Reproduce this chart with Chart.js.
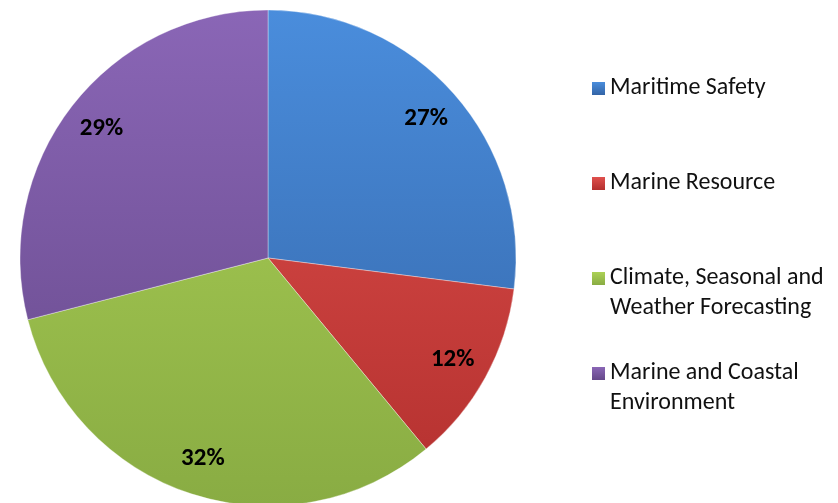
<!DOCTYPE html>
<html>
<head>
<meta charset="utf-8">
<script src="https://cdn.jsdelivr.net/npm/chart.js@4/dist/chart.umd.min.js"></script>
<style>
    html, body { margin: 0; padding: 0; background: #fff; overflow: hidden; }
    #wrap { position: relative; width: 838px; height: 503px; }
    #chart { position: absolute; left: 0; top: 0; }
    #legend { position: absolute; left: 0; top: 0; font-family: Carlito, Lato, "Open Sans", sans-serif; font-size: 24px; color: #111; }
    .item { position: absolute; left: 592px; line-height: 30px; }
    .box { position: absolute; left: 0; top: 11px; width: 13px; height: 13px; }
    .txt { position: absolute; left: 18px; top: 0; white-space: nowrap; }
</style>
</head>
<body>
<div id="wrap">
    <canvas id="chart" width="838" height="503"></canvas>
    <div id="legend"></div>
</div>
<script>
const categories = [
    "Maritime Safety",
    "Marine Resource",
    ["Climate, Seasonal and", "Weather Forecasting"],
    ["Marine and Coastal", "Environment"]
];
const shares = [27, 12, 32, 29];
const valueLabels = ["27%", "12%", "32%", "29%"];

// top / bottom shade of each slice
const topColors = ["#4a8ddc", "#e0504d", "#acd156", "#8a66b6"];
const bottomColors = ["#3364a6", "#b3302e", "#89ac43", "#654889"];

function sliceFill(context) {
    const i = context.dataIndex;
    const chart = context.chart;
    const area = chart.chartArea;
    if (!area) return topColors[i];
    const g = chart.ctx.createLinearGradient(0, 10, 0, 506);
    g.addColorStop(0, topColors[i]);
    g.addColorStop(1, bottomColors[i]);
    return g;
}

const pctLabels = {
    id: "pctLabels",
    afterDatasetsDraw(chart) {
        const ctx = chart.ctx;
        const meta = chart.getDatasetMeta(0);
        ctx.save();
        ctx.font = "bold 25px Carlito, Lato, 'Open Sans', sans-serif";
        ctx.fillStyle = "#000";
        ctx.textAlign = "center";
        ctx.textBaseline = "middle";
        meta.data.forEach((arc, i) => {
            const p = arc.getProps(["x", "y", "startAngle", "endAngle", "outerRadius"], true);
            const mid = (p.startAngle + p.endAngle) / 2;
            const r = p.outerRadius * 0.85;
            ctx.fillText(valueLabels[i], p.x + Math.cos(mid) * r, p.y + Math.sin(mid) * r);
        });
        ctx.restore();
    }
};

const ctx = document.getElementById("chart").getContext("2d");

const chart = new Chart(ctx, {
    type: "pie",
    data: {
        labels: categories,
        datasets: [{
            data: shares,
            backgroundColor: sliceFill,
            borderColor: "rgba(255,255,255,0.35)",
            borderWidth: 1,
            radius: 248
        }]
    },
    options: {
        responsive: false,
        animation: false,
        layout: {
            padding: { left: 20, right: 322, top: 13, bottom: 0 }
        },
        plugins: {
            legend: { display: false },
            tooltip: { enabled: false }
        }
    },
    plugins: [pctLabels]
});

// html legend built from the chart labels
const legend = document.getElementById("legend");
chart.data.labels.forEach((label, i) => {
    const item = document.createElement("div");
    item.className = "item";
    item.style.top = (71 + i * 95) + "px";
    const box = document.createElement("div");
    box.className = "box";
    box.style.background = "linear-gradient(" + topColors[i] + ", " + bottomColors[i] + ")";
    const txt = document.createElement("div");
    txt.className = "txt";
    txt.innerHTML = [].concat(label).join("<br>");
    item.appendChild(box);
    item.appendChild(txt);
    legend.appendChild(item);
});
</script>
</body>
</html>
